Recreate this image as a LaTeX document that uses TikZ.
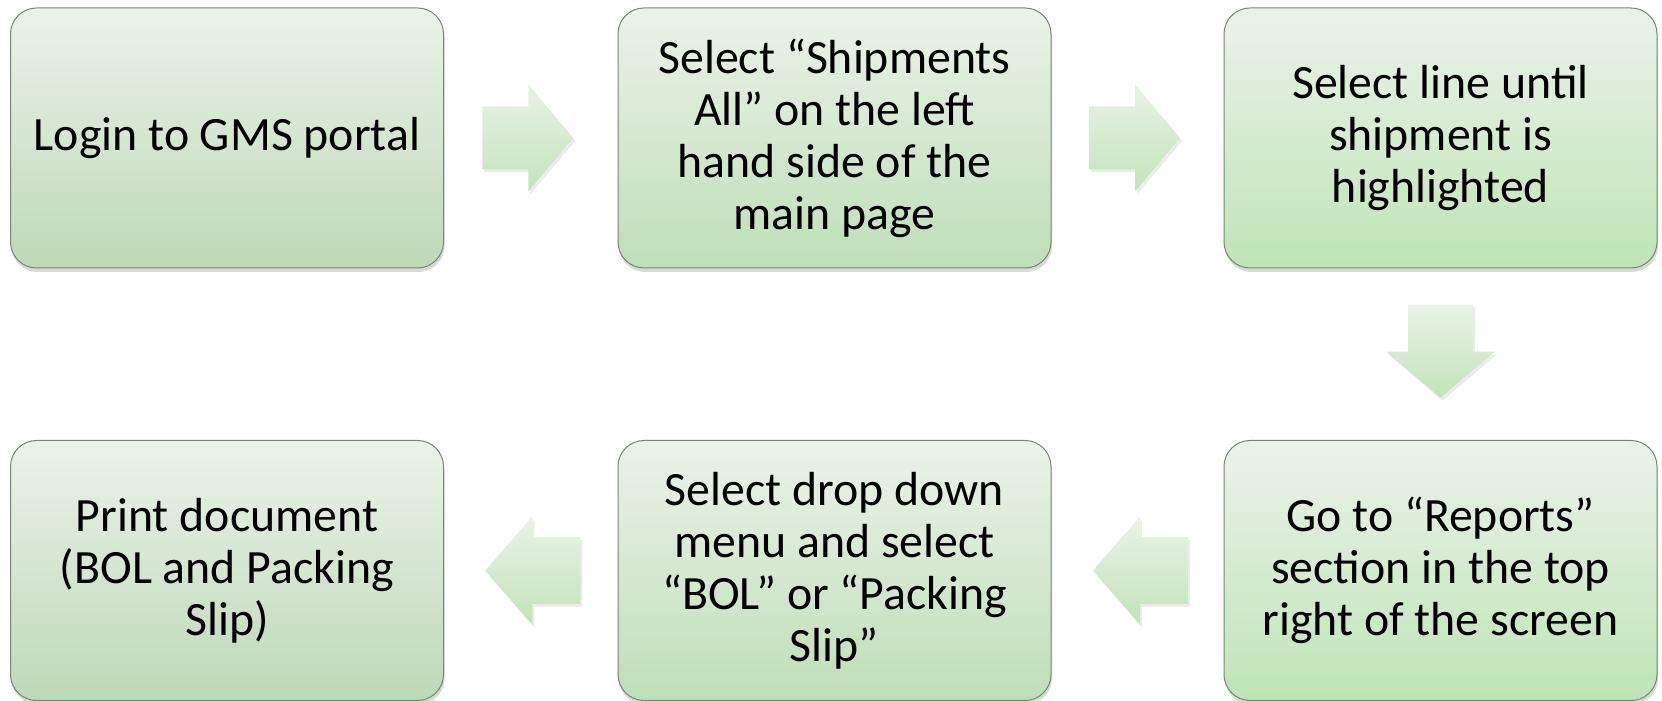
\documentclass[tikz,border=0pt]{standalone}
\usepackage{fontspec}
\setmainfont{Carlito}
\usetikzlibrary{calc,positioning,shadows}

\definecolor{boxtop}{HTML}{ECF2EA}
\definecolor{boxbotA}{HTML}{BDD9B7}
\definecolor{boxbotB}{HTML}{BEDFB7}
\definecolor{boxbotC}{HTML}{BEE5B6}
\definecolor{boxline}{HTML}{76867A}
\definecolor{arrtop}{HTML}{EAF3E7}
\definecolor{arrbot}{HTML}{C2E3BB}

\tikzset{
  stepbox/.style={rectangle, rounded corners=26pt, draw=boxline, line width=1pt,
    top color=boxtop, bottom color=boxbotB, minimum width=433pt, minimum height=260pt,
    inner sep=0pt, align=center, font=\fontsize{47.8}{52}\selectfont,
    drop shadow={shadow xshift=1pt, shadow yshift=-4pt, opacity=0.3}},
  flowarrow/.style={top color=arrtop, bottom color=arrbot, draw=none,
    drop shadow={shadow xshift=2pt, shadow yshift=-3pt, opacity=0.15}}
}

\begin{document}
\begin{tikzpicture}[x=1pt,y=1pt]
			\useasboundingbox (0,0) rectangle (1662,701);
			% steps
			\node[stepbox, bottom color=boxbotA] (s1) at (227,563) {Login to GMS portal};
			\node[stepbox] (s2) at (834.5,563) {Select “Shipments\\All” on the left\\hand side of the\\main page};
			\node[stepbox, bottom color=boxbotC] (s3) at (1440.5,563) {Select line until\\shipment is\\highlighted};
			\node[stepbox, bottom color=boxbotC] (s4) at (1440.5,130.5) {Go to “Reports”\\section in the top\\right of the screen};
			\node[stepbox] (s5) at (834.5,130.5) {Select drop down\\menu and select\\“BOL” or “Packing\\Slip”};
			\node[stepbox, bottom color=boxbotA] (s6) at (227,130.5) {Print document\\(BOL and Packing\\Slip)};
			% arrows
			\coordinate (a12) at ($(s1.east)!0.5!(s2.west)+(-3,0)$);
			\coordinate (a23) at ($(s2.east)!0.5!(s3.west)+(-3,0)$);
			\coordinate (a34) at ($(s3.south)!0.5!(s4.north)+(0,3)$);
			\coordinate (a45) at ($(s5.east)!0.5!(s4.west)+(3,0)$);
			\coordinate (a56) at ($(s6.east)!0.5!(s5.west)+(2,0)$);
			\path[flowarrow] ($(a12)+(-45.5,31.5)$) -- ++(46,0) -- ++(0,22) -- ++(45,-53.5) -- ++(-45,-53.5) -- ++(0,22) -- ++(-46,0) -- cycle;
			\path[flowarrow] ($(a23)+(-45.5,31.5)$) -- ++(46,0) -- ++(0,22) -- ++(45,-53.5) -- ++(-45,-53.5) -- ++(0,22) -- ++(-46,0) -- cycle;
			\path[flowarrow] ($(a34)+(-32.5,46.5)$) -- ++(65,0) -- ++(0,-47) -- ++(21.5,0) -- ++(-54,-46) -- ++(-54,46) -- ++(21.5,0) -- cycle;
			\path[flowarrow] ($(a45)+(47.5,33.5)$) -- ++(-48,0) -- ++(0,20.5) -- ++(-47,-54) -- ++(47,-54) -- ++(0,20.5) -- ++(48,0) -- cycle;
			\path[flowarrow] ($(a56)+(47.5,33.5)$) -- ++(-48,0) -- ++(0,20.5) -- ++(-47,-54) -- ++(47,-54) -- ++(0,20.5) -- ++(48,0) -- cycle;
	\end{tikzpicture}
\end{document}
